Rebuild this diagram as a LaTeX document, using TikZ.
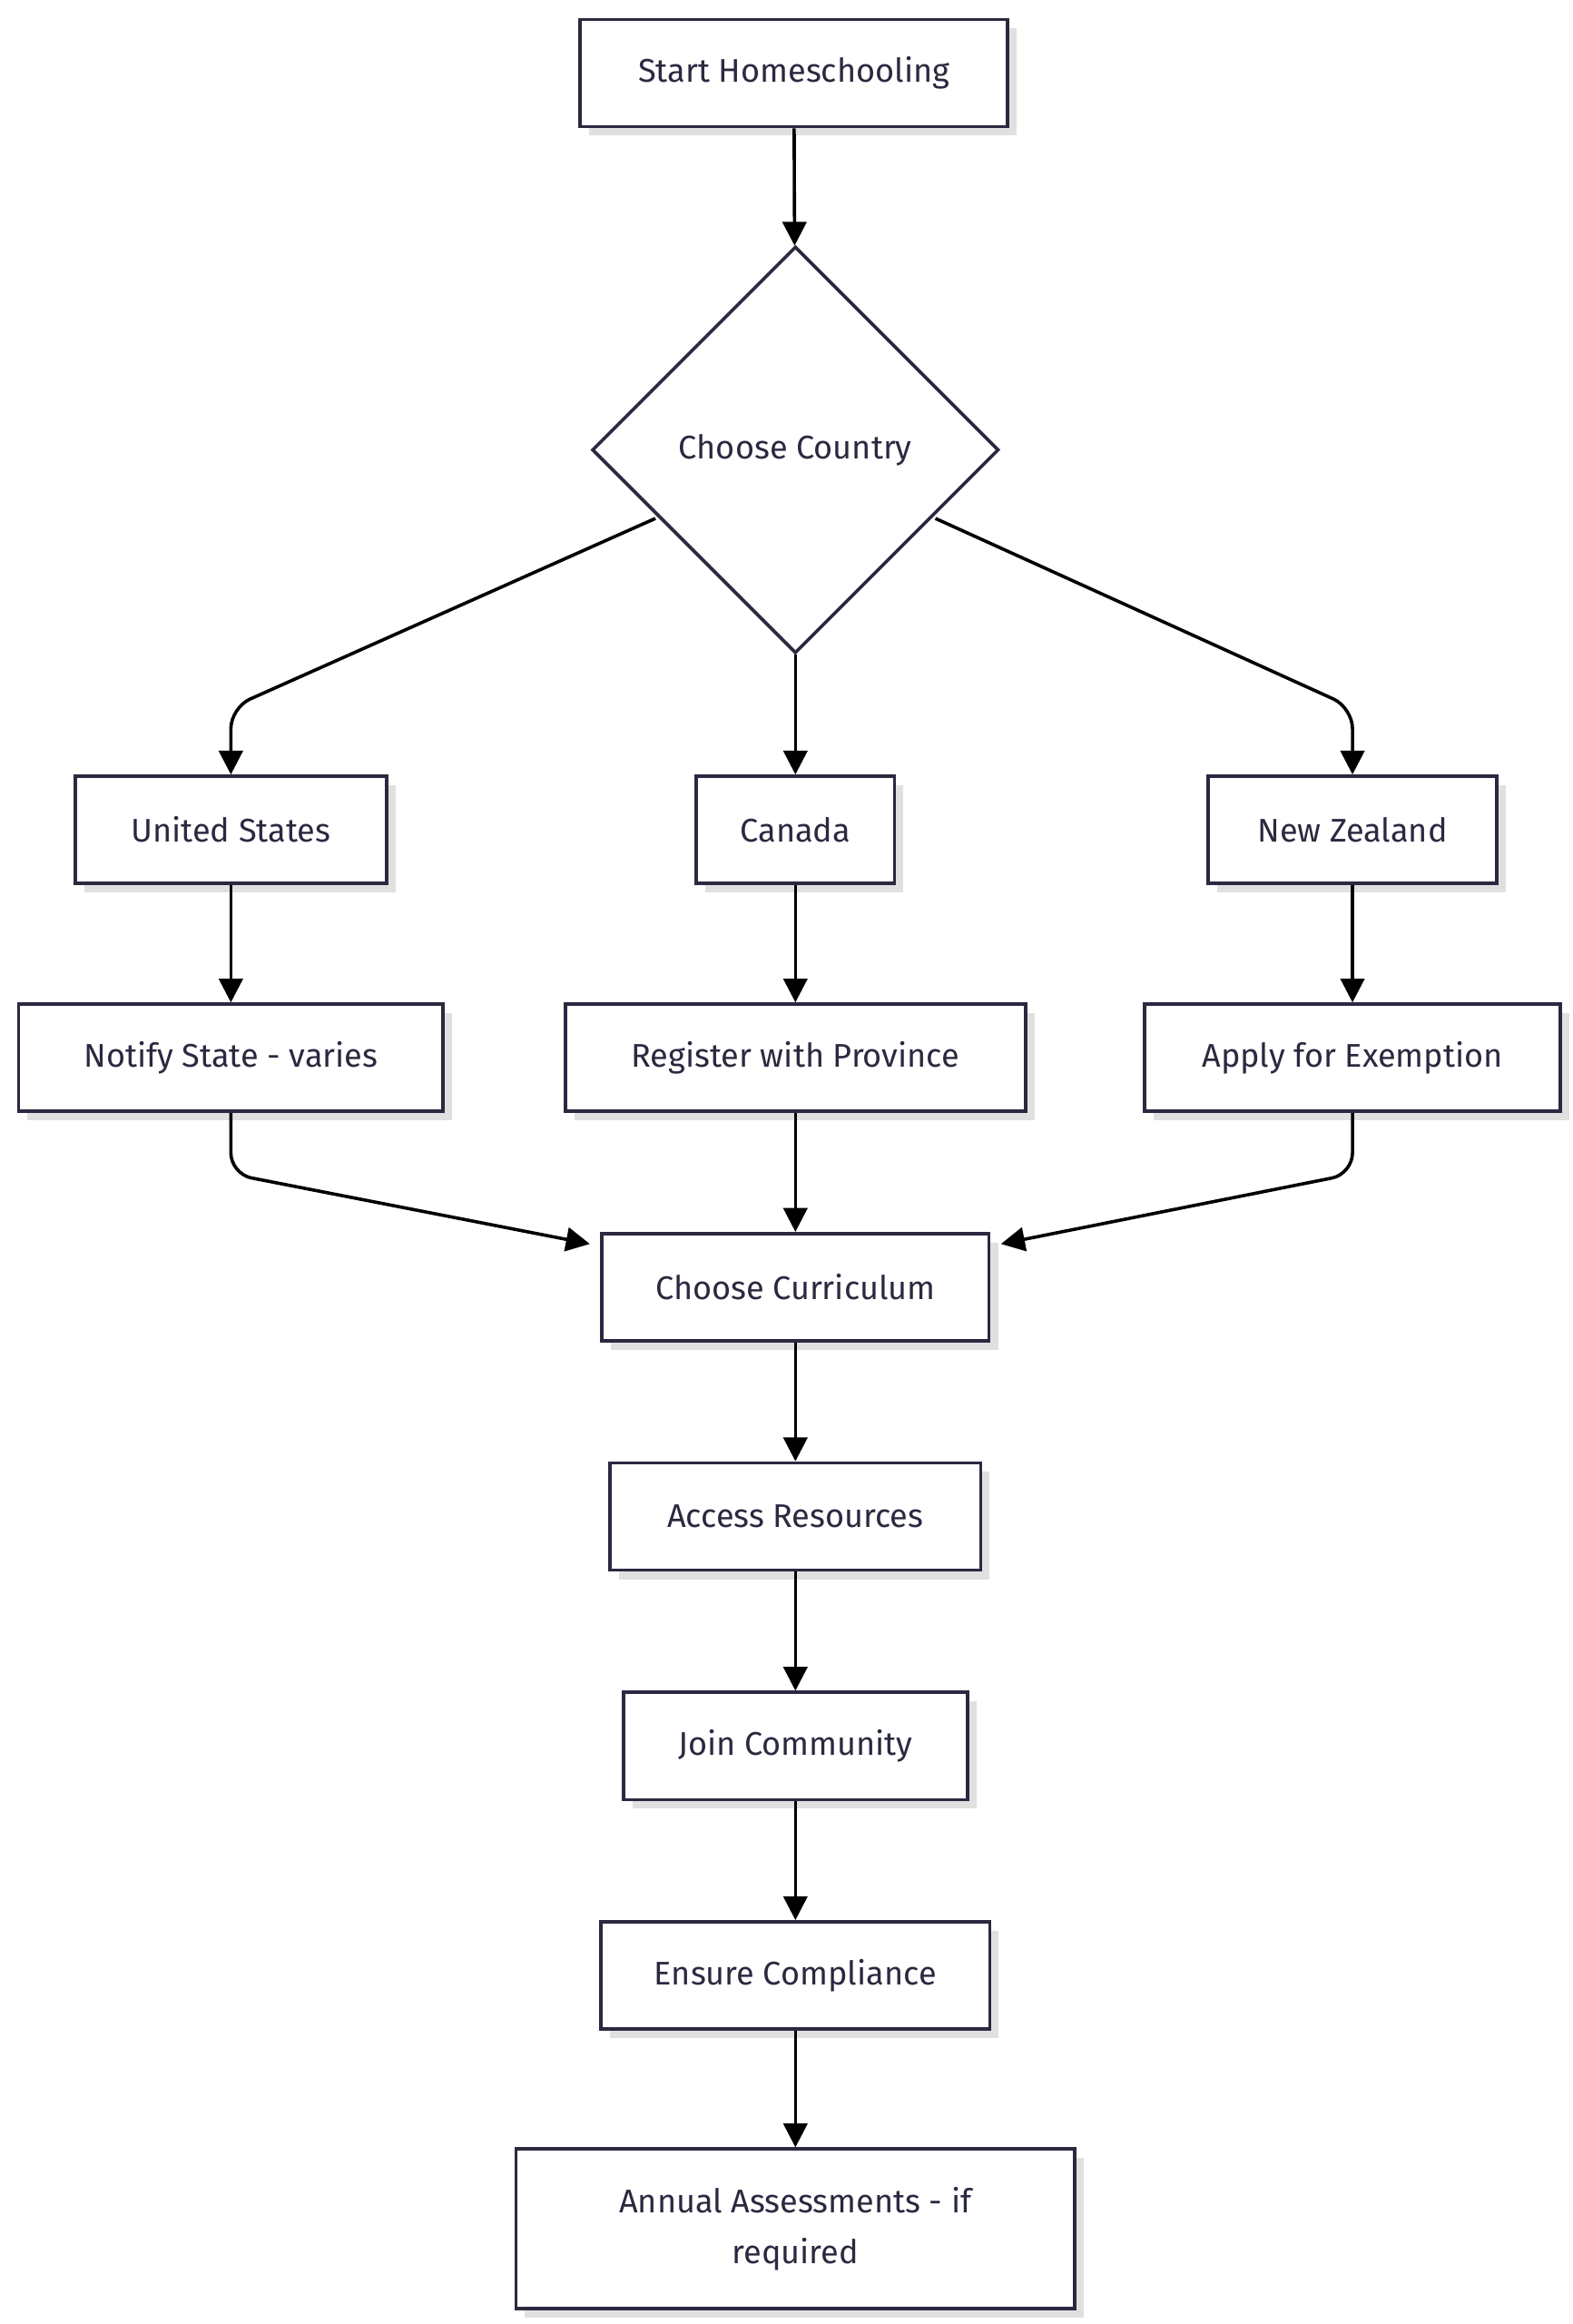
\documentclass[tikz,border=0pt]{standalone}
\usepackage{fontspec}
\setmainfont{Fira Sans}
\usetikzlibrary{shapes.geometric,arrows.meta,shadows}
\definecolor{ink}{HTML}{2B2940}
\begin{document}
\begin{tikzpicture}[x=1pt,y=-1pt,
 base/.style={draw=ink,line width=2.2pt,fill=white,text=ink,font=\fontsize{22}{34}\selectfont,
   inner sep=0pt,minimum height=72pt},
 box/.style={base,drop shadow={shadow xshift=6pt,shadow yshift=-6pt,fill=black!12,opacity=1}},
 arr/.style={draw=black,line width=2.2pt,-{Triangle[length=16pt,width=16pt]},rounded corners=14pt}]
\useasboundingbox (0,0) rectangle (1056,1560);
\node[box,minimum width=287pt] (start) at (533,49) {Start Homeschooling};
\node[base,diamond,aspect=1,minimum width=273pt,minimum height=273pt] (country) at (534,302) {Choose Country};
\node[box,minimum width=209pt] (us) at (155,557) {United States};
\node[box,minimum width=133pt] (ca) at (534,557) {Canada};
\node[box,minimum width=194pt] (nz) at (908,557) {New Zealand};
\node[box,minimum width=285pt] (notify) at (155,710) {Notify State - varies};
\node[box,minimum width=309pt] (reg) at (534,710) {Register with Province};
\node[box,minimum width=279pt] (apply) at (908,710) {Apply for Exemption};
\node[box,minimum width=260pt] (cur) at (534,864) {Choose Curriculum};
\node[box,minimum width=249pt] (acc) at (534,1018) {Access Resources};
\node[box,minimum width=231pt] (join) at (534,1172) {Join Community};
\node[box,minimum width=261pt] (ens) at (534,1326) {Ensure Compliance};
\node[box,minimum width=375pt,minimum height=107pt,align=center] (ann) at (534,1496) {Annual Assessments - if\\required};
\draw[arr] (start) -- (country);
\coordinate (cl) at (440,348); \coordinate (cr) at (628,348);
\draw[arr] (cl) -- (155,475) -- (us.north);
\draw[arr] (country.south) -- (ca.north);
\draw[arr] (cr) -- (908,475) -- (nz.north);
\draw[arr] (us) -- (notify);
\draw[arr] (ca) -- (reg);
\draw[arr] (nz) -- (apply);
\coordinate (cin1) at (396,835); \coordinate (cin2) at (672,835);
\draw[arr] (notify.south) -- (155,788) -- (cin1);
\draw[arr] (reg) -- (cur);
\draw[arr] (apply.south) -- (908,788) -- (cin2);
\draw[arr] (cur) -- (acc);
\draw[arr] (acc) -- (join);
\draw[arr] (join) -- (ens);
\draw[arr] (ens) -- (ann);
\end{tikzpicture}
\end{document}
